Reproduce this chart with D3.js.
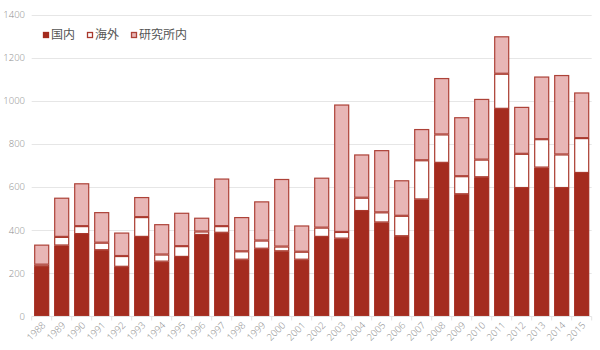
<!DOCTYPE html>
<html>
<head>
<meta charset="utf-8">
<script src="https://cdn.jsdelivr.net/npm/d3@7/dist/d3.min.js"></script>
<style>
  html, body { margin: 0; padding: 0; background: #fff; }
  svg { display: block; font-family: "Noto Sans CJK JP", "Noto Sans", sans-serif; }
  .tick-label { font-family: "Open Sans", "Noto Sans", sans-serif; font-weight: 300; }
</style>
</head>
<body>
<svg id="chart" width="600" height="350"></svg>
<script>
const years = ["1988","1989","1990","1991","1992","1993","1994","1995","1996","1997",
  "1998","1999","2000","2001","2002","2003","2004","2005","2006","2007",
  "2008","2009","2010","2011","2012","2013","2014","2015"];
const domestic = [229,329,382,307,230,369,254,276,378,388,263,314,302,263,369,361,489,436,372,543,713,567,646,964,596,691,596,666];
const overseas = [11,40,37,35,50,92,33,50,16,31,39,38,22,37,43,31,62,47,95,182,132,84,82,163,159,132,156,162];
const inHouse  = [93,182,199,142,109,93,141,155,64,221,159,182,314,122,232,592,201,289,165,145,262,274,282,174,218,291,369,212];
const seriesNames = ["国内", "海外", "研究所内"];
const yTicks = [0, 200, 400, 600, 800, 1000, 1200, 1400];

const fills   = ["#a42c1f", "#ffffff", "#e8b6b6"];
const strokes = ["#a42c1f", "#a9392d", "#ad4238"];

const svg = d3.select("#chart");
const margin = { left: 31.7, right: 8.3, top: 15, bottom: 34 };
const W = 600, H = 350;

const x = d3.scaleBand().domain(years).range([margin.left, W - margin.right]).paddingInner(0.25).paddingOuter(0.125);
const xb = d3.scaleBand().domain(years).range([margin.left, W - margin.right]);
const y = d3.scaleLinear().domain([0, 1400]).range([H - margin.bottom + 0.3, margin.top]);

// horizontal grid lines
svg.append("g").selectAll("line").data(yTicks.slice(1)).join("line")
  .attr("x1", margin.left).attr("x2", W - margin.right)
  .attr("y1", d => Math.round(y(d)) + 0.5).attr("y2", d => Math.round(y(d)) + 0.5)
  .attr("stroke", "#e6e6e6").attr("stroke-width", 1);

// y tick labels
svg.append("g").selectAll("text").data(yTicks).join("text")
  .attr("class", "tick-label")
  .attr("x", 25).attr("y", d => y(d)).attr("dy", "0.35em")
  .attr("text-anchor", "end")
  .attr("font-size", 9.5).attr("fill", "#8c8c8c")
  .text(d => d);

// stacked bars
const rows = years.map((yr, i) => ({ year: yr, v: [domestic[i], overseas[i], inHouse[i]] }));
const stackData = d3.stack().keys([0, 1, 2]).value((d, k) => d.v[k])(rows);

stackData.forEach((layer, k) => {
  svg.append("g").selectAll("rect").data(layer).join("rect")
    .attr("x", d => x(d.data.year) + 0.5)
    .attr("width", x.bandwidth() - 1)
    .attr("y", d => y(d[1]) + 0.5)
    .attr("height", d => Math.max(0, y(d[0]) - y(d[1]) - 1))
    .attr("fill", fills[k])
    .attr("stroke", strokes[k])
    .attr("stroke-width", 1.2);
});

// x axis baseline and ticks between categories
const base = Math.round(y(0)) + 0.5;
svg.append("line").attr("x1", margin.left).attr("x2", W - margin.right)
  .attr("y1", base).attr("y2", base).attr("stroke", "#e3e3e3");
const edges = years.map(d => xb(d)).concat([xb(years[years.length - 1]) + xb.bandwidth()]);
svg.append("g").selectAll("line").data(edges).join("line")
  .attr("x1", d => d).attr("x2", d => d)
  .attr("y1", base).attr("y2", base + 4)
  .attr("stroke", "#e3e3e3");

// rotated year labels
svg.append("g").selectAll("text").data(years).join("text")
  .attr("class", "tick-label")
  .attr("transform", d => `translate(${x(d) + x.bandwidth() / 2 + 2},${base + 7}) rotate(-45)`)
  .attr("text-anchor", "end")
  .attr("dy", "0.35em")
  .attr("font-size", 9.5).attr("fill", "#8c8c8c")
  .text(d => d);

// legend
const legendX = [43, 87, 131];
const lg = svg.append("g");
seriesNames.forEach((name, k) => {
  lg.append("rect").attr("x", legendX[k] + 0.5).attr("y", 32.5).attr("width", 5).attr("height", 5)
    .attr("fill", fills[k]).attr("stroke", strokes[k]).attr("stroke-width", 1.3);
  lg.append("text").attr("x", legendX[k] + 8).attr("y", 35).attr("dy", "0.36em")
    .attr("font-size", 12).attr("fill", "#555")
    .text(name);
});
</script>
</body>
</html>
